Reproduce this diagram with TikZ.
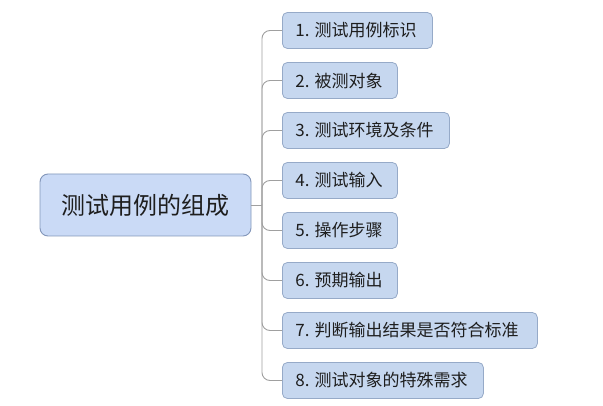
\documentclass[tikz,border=0pt]{standalone}
\usepackage{fontspec}
\newfontfamily\cjk{Noto Sans CJK SC}
\definecolor{boxfill}{RGB}{198,215,239}
\definecolor{boxdraw}{RGB}{150,170,200}
\definecolor{rootfill}{RGB}{202,218,246}
\definecolor{rootdraw}{RGB}{130,150,185}
\definecolor{linecol}{RGB}{160,160,160}
\definecolor{txt}{RGB}{30,30,30}
\newcommand{\lbl}[2]{\makebox[#1][l]{#2}}
\tikzset{
  rootbox/.style={draw=rootdraw, fill=rootfill, line width=0.9pt, rounded corners=8pt,
    minimum width=211pt, minimum height=62pt, inner sep=0pt, text=txt,
    font=\cjk\fontsize{24}{28}\selectfont},
  leafbox/.style={draw=boxdraw, fill=boxfill, line width=0.8pt, rounded corners=5pt,
    minimum height=36pt, inner ysep=0pt, inner xsep=13pt, anchor=west, text=txt,
    font=\cjk\fontsize{17}{20}\selectfont},
  conn/.style={draw=linecol, line width=0.9pt},
  branch/.style={conn, rounded corners=8pt}
}
\begin{document}
\begin{tikzpicture}[x=1pt,y=-1pt]
\useasboundingbox (0,0) rectangle (603,406);
\node[rootbox] (root) at (145.5,205) {测试用例的组成};
\coordinate (hub) at (262,205);
\node[leafbox] (b1) at (282,30.5) {\lbl{124pt}{1. 测试用例标识}};
\node[leafbox] (b2) at (282,80.5) {\lbl{89pt}{2. 被测对象}};
\node[leafbox] (b3) at (282,130.5) {\lbl{141pt}{3. 测试环境及条件}};
\node[leafbox] (b4) at (282,180.5) {\lbl{89pt}{4. 测试输入}};
\node[leafbox] (b5) at (282,230.5) {\lbl{89pt}{5. 操作步骤}};
\node[leafbox] (b6) at (282,280.5) {\lbl{89pt}{6. 预期输出}};
\node[leafbox] (b7) at (282,330.5) {\lbl{229pt}{7. 判断输出结果是否符合标准}};
\node[leafbox] (b8) at (282,380.5) {\lbl{175pt}{8. 测试对象的特殊需求}};
\draw[conn] (root.east) -- (hub);
\foreach \i in {1,...,8}{
  \draw[branch] (hub) |- (b\i.west);
}
\end{tikzpicture}
\end{document}
